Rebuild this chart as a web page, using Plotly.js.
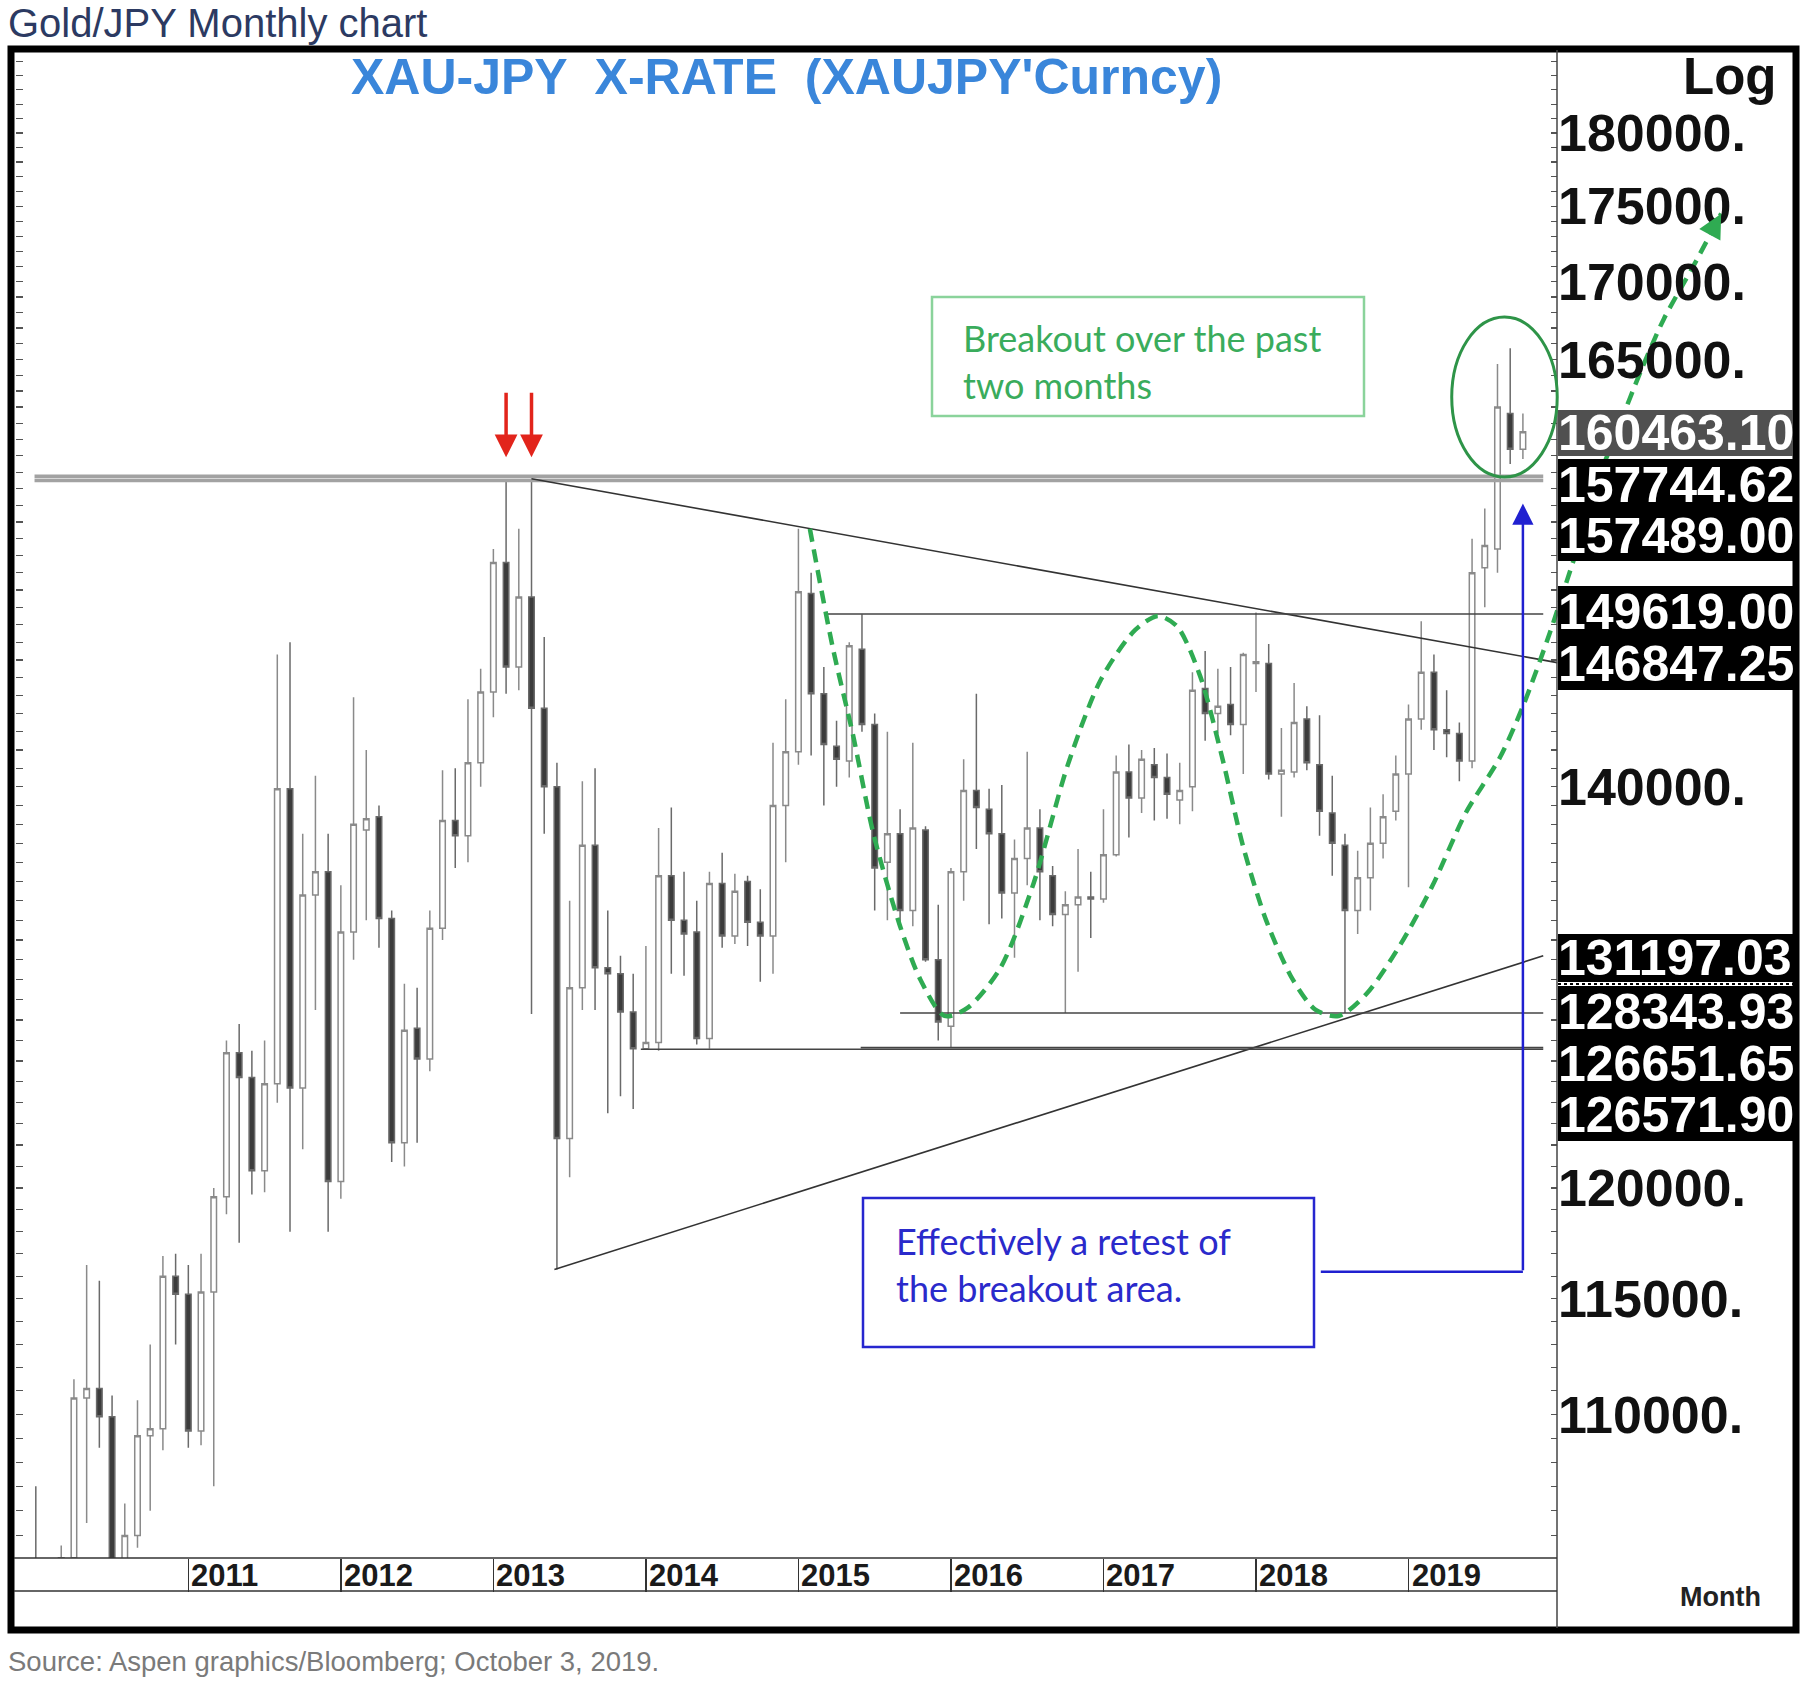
<!DOCTYPE html>
<html><head><meta charset="utf-8">
<script src="https://cdn.plot.ly/plotly-3.0.1.min.js"></script>
<style>html,body{margin:0;padding:0;background:#fff;}#chart{width:1812px;height:1686px;}</style>
</head><body><div id="chart"></div>
<script>
// ---------------- data ----------------
const months = [
'2010-01','2010-02','2010-03','2010-04','2010-05','2010-06','2010-07','2010-08','2010-09','2010-10','2010-11','2010-12',
'2011-01','2011-02','2011-03','2011-04','2011-05','2011-06','2011-07','2011-08','2011-09','2011-10','2011-11','2011-12',
'2012-01','2012-02','2012-03','2012-04','2012-05','2012-06','2012-07','2012-08','2012-09','2012-10','2012-11','2012-12',
'2013-01','2013-02','2013-03','2013-04','2013-05','2013-06','2013-07','2013-08','2013-09','2013-10','2013-11','2013-12',
'2014-01','2014-02','2014-03','2014-04','2014-05','2014-06','2014-07','2014-08','2014-09','2014-10','2014-11','2014-12',
'2015-01','2015-02','2015-03','2015-04','2015-05','2015-06','2015-07','2015-08','2015-09','2015-10','2015-11','2015-12',
'2016-01','2016-02','2016-03','2016-04','2016-05','2016-06','2016-07','2016-08','2016-09','2016-10','2016-11','2016-12',
'2017-01','2017-02','2017-03','2017-04','2017-05','2017-06','2017-07','2017-08','2017-09','2017-10','2017-11','2017-12',
'2018-01','2018-02','2018-03','2018-04','2018-05','2018-06','2018-07','2018-08','2018-09','2018-10','2018-11','2018-12',
'2019-01','2019-02','2019-03','2019-04','2019-05','2019-06','2019-07','2019-08','2019-09','2019-10'];

const openV = [
100900,97600,99300,104100,110700,111100,109900,102200,105000,109100,109400,116000,
115200,109300,115300,119600,126400,125200,120800,124900,139900,124700,134300,135500,
120300,132400,137700,138400,133100,122100,127600,126100,132600,138200,137400,141300,
145200,152600,146600,150600,144300,140000,122300,129600,136900,130600,130300,128400,
126600,126900,135300,133000,132400,127100,134900,132200,135000,132900,132200,139000,
141900,150800,145100,142200,141400,147600,143400,136000,137500,133500,137700,131000,
127700,135500,139800,138800,137500,134400,136200,137800,135300,133300,133800,134200,
134100,136400,140800,139400,141200,140500,139300,140000,145400,144000,144500,143400,
146800,146800,140700,140800,143700,141200,138600,136900,133500,135200,137000,138700,
140700,143700,146300,143100,142900,141400,152300,153400,161600,159400];
const highV = [
107000,101500,104600,111500,116500,115800,110800,106300,110600,113000,116900,117000,
116500,117000,120000,127000,127800,126500,127000,147300,148000,137500,140600,137500,
134800,144900,142000,139000,133500,129800,129600,133500,140900,141000,144800,146500,
153400,157500,154600,157600,148300,141300,134000,140300,141000,133500,131200,130300,
131700,137800,138900,135500,134000,135500,136500,135400,135300,134600,142400,144800,
154600,152000,146600,143600,148000,149600,144000,143000,138800,142400,137900,133800,
135700,141500,145100,139900,140100,137200,141900,138800,135800,134500,136700,135500,
138800,141700,142300,142000,142100,141800,141300,146300,147500,146500,146600,147400,
149700,147900,143200,145700,144400,143900,140600,137500,136600,138900,139600,141700,
144500,149200,147300,145300,143500,154000,155800,164700,165700,161600];
const lowV = [
96500,95500,97800,103200,105500,108600,100800,101000,104500,106000,108500,113000,
108600,108700,107000,118800,117500,119700,119800,124000,118000,121800,128500,118000,
119500,131000,133000,131600,121200,121000,122100,125500,132000,135700,136000,140000,
143800,145100,145300,128300,137500,116300,120500,128500,128500,123500,124300,123700,
126570,126500,130300,130200,126800,126600,131600,131800,131700,129900,130300,136000,
141200,141700,139000,140000,140500,143000,133500,133000,132600,132700,130900,127000,
126650,134000,136700,132800,133100,131100,134800,133000,132700,128350,130400,132100,
133900,136300,137300,138600,138200,138300,138000,138700,142500,142900,142800,140700,
145200,140400,138400,140500,140900,137400,135300,128344,132300,133500,136200,138200,
134700,143100,142000,141600,140300,141000,150000,152000,158500,158800];
const closeV = [
97600,99300,104100,110700,111100,109900,102200,105000,109100,109400,116000,115200,
109300,115300,119600,126400,125200,120800,124900,139900,124700,134300,135500,120300,
132400,138000,138300,133100,122100,127500,126100,132600,138200,137400,141300,145200,
152600,146600,150600,144300,140000,122300,129600,136900,130600,130300,128400,126600,
126900,135300,133000,132300,127100,134900,132200,134500,132900,132200,139000,141900,
150900,145100,142300,141500,147800,143400,135700,137500,133500,137800,131000,127900,
135500,139800,138900,137500,134400,136200,137800,135500,133300,133800,134200,134100,
136400,140800,139400,141500,140500,139600,139800,145300,144000,144400,143400,147300,
146900,140700,140900,143500,141300,138700,137000,133500,135200,137000,138400,140700,
143700,146300,143100,142900,141400,152000,153600,162000,159400,160463];

const yearLabels = ['2011','2012','2013','2014','2015','2016','2017','2018','2019'];
const yTickVals = [110000,115000,120000,140000,165000,170000,175000,180000];
const yTickText = ['110000.','115000.','120000.','140000.','165000.','170000.','175000.','180000.'];

const levelLabels = ['160463.10','157744.62','157489.00','149619.00','146847.25','131197.03','128343.93','126651.65','126571.90'];

const resistanceLevels = [157744.62, 157489.00];
const resistanceMonths = [-0.1, 118.6];
const descLineMonths = [39, 119.7];
const descLineValues = [157600, 146847.25];
const ascLineMonths = [40.8, 118.6];
const ascLineValues = [116300, 131197.03];
const flatLevels = [149619.00, 128343.93, 126571.90, 126651.65];
const flatStartMonths = [62.2, 68.0, 47.6, 64.9];
const flatEndMonth = 118.6;

const waveMonths = [60.9,62.7,64.3,65.9,68.0,69.6,71.5,73.3,75.9,78.5,81.2,83.8,86.5,88.3,89.8,91.6,93.3,95.0,96.8,98.9,100.7,102.5,104.7,107.3,109.9,112.5,115.2,117.0,119.1,120.4,121.7,123.1,124.5,126.3,128.1,130.4,132.6];
const waveValues = [154600,147700,142800,137500,132700,130000,128200,128600,130600,134900,141200,145900,148700,149500,148900,146100,141700,136800,133000,130000,128500,128200,129300,131700,134800,138600,141600,144400,148500,151400,154400,157900,160700,164300,167600,171000,174500];

const redArrowMonths = [37, 39];
const redArrowTipValue = 158900;
const retestMonths = [101.1, 117];
const retestValues = [116200, 156100];
const ellipseMonths = [111.4, 119.7];
const ellipseValues = [157700, 167700];

// ---------------- geometry helpers ----------------
const L = 15, R = 1793, T = 52, B = 1558;
const PX = x => (x - L) / (R - L);
const PY = y => (B - y) / (B - T);
const lg = v => Math.log10(v);
const FONT = 'Liberation Sans, Arial, sans-serif';
const NOTE = 'Lato, Open Sans, sans-serif';
const idx = months.map((m, i) => i);
const yearIdx = yearLabels.map(y => months.indexOf(y + '-01'));
const yRange = [5.017426, 5.268775];

// ---------------- traces ----------------
const traces = [];
traces.push({
  type: 'candlestick', x: idx, open: openV, high: highV, low: lowV, close: closeV,
  text: months, whiskerwidth: 0, showlegend: false, hoverinfo: 'x+text',
  increasing: {line: {color: '#8a8a8a', width: 1.5}, fillcolor: '#ffffff'},
  decreasing: {line: {color: '#6a6a6a', width: 1.5}, fillcolor: '#3c3c3c'}
});
resistanceLevels.forEach(v => traces.push({
  type: 'scatter', mode: 'lines', x: resistanceMonths, y: [v, v], showlegend: false, hoverinfo: 'skip',
  line: {color: '#a2a2a2', width: 3.6}
}));
traces.push({type: 'scatter', mode: 'lines', x: descLineMonths, y: descLineValues, showlegend: false, hoverinfo: 'skip', line: {color: '#333', width: 1.6}});
traces.push({type: 'scatter', mode: 'lines', x: ascLineMonths, y: ascLineValues, showlegend: false, hoverinfo: 'skip', line: {color: '#333', width: 1.6}});
flatLevels.forEach((v, k) => traces.push({
  type: 'scatter', mode: 'lines', x: [flatStartMonths[k], flatEndMonth], y: [v, v], showlegend: false, hoverinfo: 'skip',
  line: {color: '#444', width: 1.6}
}));
traces.push({type: 'scatter', mode: 'lines', x: retestMonths.slice(0), y: [retestValues[0], retestValues[0]], showlegend: false, hoverinfo: 'skip', line: {color: '#2020d0', width: 2.5}});
traces.push({type: 'scatter', mode: 'lines', x: waveMonths, y: waveValues, showlegend: false, hoverinfo: 'skip',
  line: {color: '#2fab52', width: 4.5, dash: '13px,8px', shape: 'spline', smoothing: 0.8}});
traces.push({type: 'scatter', x: [null], y: [null], yaxis: 'y2', showlegend: false, hoverinfo: 'skip'});
traces.push({type: 'scatter', x: [null], y: [null], yaxis: 'y3', showlegend: false, hoverinfo: 'skip'});

// ---------------- shapes ----------------
const shapes = [];
shapes.push({type: 'rect', xref: 'paper', yref: 'paper', x0: PX(11), x1: PX(1796), y0: PY(1630), y1: PY(49), line: {color: '#000', width: 7}});
shapes.push({type: 'line', xref: 'paper', yref: 'paper', x0: PX(1557), x1: PX(1557), y0: PY(1628), y1: PY(50), line: {color: '#444', width: 1.5}});
[1558, 1591].forEach(py => shapes.push({type: 'line', xref: 'paper', yref: 'paper', x0: PX(14), x1: PX(1557), y0: PY(py), y1: PY(py), line: {color: '#333', width: 1.5}}));
shapes.push({type: 'line', xref: 'paper', yref: 'paper', x0: PX(1558), x1: PX(1793), y0: PY(984), y1: PY(984), line: {color: '#000', width: 2, dash: 'dot'}});
// ellipse around breakout (shape positions on a log axis are given as data values)
shapes.push({type: 'circle', xref: 'x', yref: 'y', x0: ellipseMonths[0], x1: ellipseMonths[1], y0: ellipseValues[0], y1: ellipseValues[1], line: {color: '#2e9448', width: 3}});
shapes.push({type: 'rect', xref: 'paper', yref: 'paper', x0: PX(932), x1: PX(1364), y0: PY(416), y1: PY(297), line: {color: '#8ad39b', width: 2.5}});
shapes.push({type: 'rect', xref: 'paper', yref: 'paper', x0: PX(863), x1: PX(1314), y0: PY(1347), y1: PY(1198), line: {color: '#2626cf', width: 2.5}});

// ---------------- annotations ----------------
const ann = [];
ann.push({xref: 'paper', yref: 'paper', x: PX(6), y: PY(23), xanchor: 'left', yanchor: 'middle', showarrow: false,
  text: 'Gold/JPY Monthly chart', font: {family: FONT, size: 40, color: '#2c3a62'}});
ann.push({xref: 'paper', yref: 'paper', x: PX(786), y: PY(77), xanchor: 'center', yanchor: 'middle', showarrow: false,
  text: "<b>XAU-JPY  X-RATE  (XAUJPY'Curncy)</b>", font: {family: FONT, size: 50, color: '#3a86da'}});
ann.push({xref: 'paper', yref: 'paper', x: PX(1778), y: PY(77), xanchor: 'right', yanchor: 'middle', showarrow: false,
  text: '<b>Log</b>', font: {family: FONT, size: 51, color: '#111'}});
ann.push({xref: 'paper', yref: 'paper', x: PX(1720), y: PY(1597), xanchor: 'center', yanchor: 'middle', showarrow: false,
  text: '<b>Month</b>', font: {family: FONT, size: 27, color: '#222'}});
ann.push({xref: 'paper', yref: 'paper', x: PX(6), y: PY(1661), xanchor: 'left', yanchor: 'middle', showarrow: false,
  text: 'Source: Aspen graphics/Bloomberg; October 3, 2019.', font: {family: FONT, size: 27.5, color: '#7a7a7a'}});
yearLabels.forEach((y, k) => ann.push({xref: 'x', yref: 'paper', x: yearIdx[k], y: PY(1575), xanchor: 'left', yanchor: 'middle', xshift: 1,
  showarrow: false, text: '<b>' + y + '</b>', font: {family: FONT, size: 31, color: '#1a1a1a'}}));

const boxCenters = [433, 484.5, 535, 612, 664, 958, 1012, 1063.5, 1115];
const boxHeights = [46, 51, 51, 52, 52, 48, 52, 52, 52];
const boxColors = ['#505050', '#000', '#000', '#000', '#000', '#000', '#000', '#000', '#000'];
levelLabels.forEach((t, k) => ann.push({xref: 'paper', yref: 'paper', x: PX(1558), y: PY(boxCenters[k]), xanchor: 'left', yanchor: 'middle',
  showarrow: false, width: 235, height: boxHeights[k], align: 'left', valign: 'middle', bgcolor: boxColors[k], borderpad: 0, borderwidth: 0,
  text: '<b>' + t + '</b>', font: {family: FONT, size: 50, color: '#fff'}}));

ann.push({xref: 'paper', yref: 'paper', x: PX(961), y: PY(361), xanchor: 'left', yanchor: 'middle', align: 'left', showarrow: false,
  text: 'Breakout over the past<br>two months', font: {family: NOTE, size: 36, color: '#3aac5c'}});
ann.push({xref: 'paper', yref: 'paper', x: PX(894), y: PY(1264), xanchor: 'left', yanchor: 'middle', align: 'left', showarrow: false,
  text: 'Effectively a retest of<br>the breakout area.', font: {family: NOTE, size: 36, color: '#2a2acb'}});

redArrowMonths.forEach(m => ann.push({xref: 'x', yref: 'y', x: m, y: lg(redArrowTipValue), ax: 0, ay: -66, axref: 'pixel', ayref: 'pixel',
  showarrow: true, arrowhead: 2, arrowsize: 1.3, arrowwidth: 3.5, arrowcolor: '#e2241b', standoff: 0, text: ''}));
ann.push({xref: 'x', yref: 'y', x: retestMonths[1], y: lg(retestValues[1]), axref: 'x', ayref: 'y', ax: retestMonths[1], ay: lg(retestValues[0]),
  showarrow: true, arrowhead: 2, arrowsize: 1.7, arrowwidth: 2.5, arrowcolor: '#2020d0', standoff: 0, text: ''});
ann.push({xref: 'x', yref: 'y', x: waveMonths[waveMonths.length - 1], y: lg(waveValues[waveValues.length - 1]), ax: -7, ay: 13, axref: 'pixel', ayref: 'pixel',
  showarrow: true, arrowhead: 2, arrowsize: 1.2, arrowwidth: 4, arrowcolor: '#2fab52', standoff: 0, text: ''});

// ---------------- layout ----------------
const layout = {
  width: 1812, height: 1686,
  margin: {l: L, r: 1812 - R, t: T, b: 1686 - B, autoexpand: false},
  paper_bgcolor: '#fff', plot_bgcolor: '#fff',
  showlegend: false, boxgap: 0.38,
  font: {family: FONT, color: '#111'},
  xaxis: {range: [-1.637, 138.25], showgrid: false, zeroline: false, showline: false, showticklabels: false,
    tickmode: 'array', tickvals: yearIdx, ticks: 'outside', ticklen: 33, tickwidth: 1.5, tickcolor: '#333',
    rangeslider: {visible: false}, fixedrange: true},
  yaxis: {type: 'log', range: yRange, anchor: 'free', position: PX(1557), side: 'right', showgrid: false, zeroline: false, showline: false,
    tickmode: 'array', tickvals: yTickVals, ticktext: yTickText, ticks: '', tickfont: {family: FONT, size: 52, color: '#111', weight: 'bold'}, fixedrange: true},
  yaxis2: {type: 'log', range: yRange, overlaying: 'y', anchor: 'free', position: PX(1557), side: 'right', showgrid: false, zeroline: false, showline: false,
    tickmode: 'linear', tick0: 100000, dtick: 'L1000', ticks: 'inside', ticklen: 6, tickwidth: 1.2, tickcolor: '#555', showticklabels: false, fixedrange: true},
  yaxis3: {type: 'log', range: yRange, overlaying: 'y', anchor: 'free', position: 0, side: 'left', showgrid: false, zeroline: false, showline: false,
    tickmode: 'linear', tick0: 100000, dtick: 'L1000', ticks: 'inside', ticklen: 7, tickwidth: 1.2, tickcolor: '#555', showticklabels: false, fixedrange: true},
  shapes: shapes, annotations: ann
};
Plotly.newPlot('chart', traces, layout, {displayModeBar: false, staticPlot: true});
</script></body></html>
